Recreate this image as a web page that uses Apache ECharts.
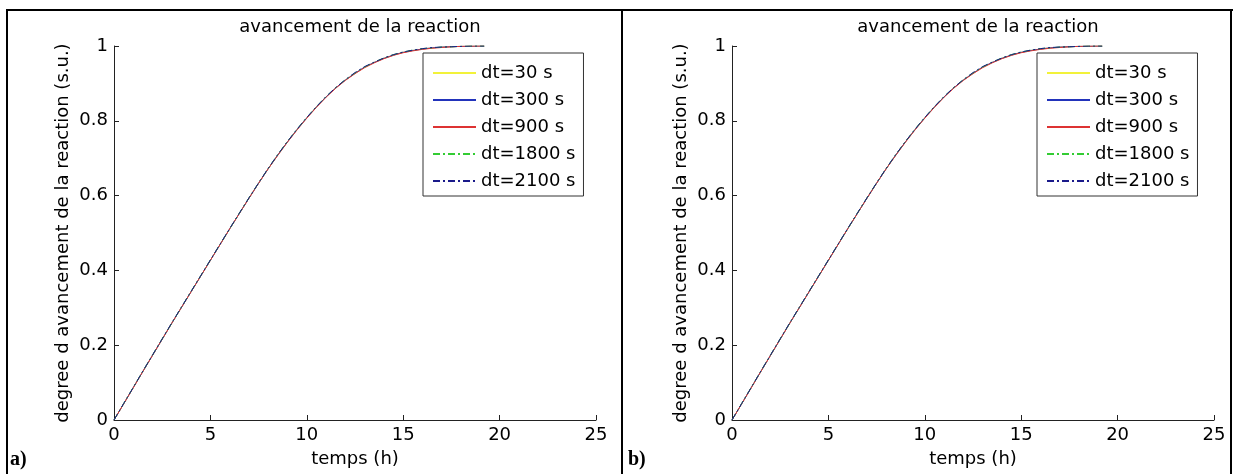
<!DOCTYPE html>
<html>
<head>
<meta charset="utf-8">
<script src="https://cdn.jsdelivr.net/npm/echarts@6/dist/echarts.min.js"></script>
<style>
html,body{margin:0;padding:0;background:#fff;}
#chart{width:1233px;height:474px;}
</style>
</head>
<body>
<div id="chart"></div>
<script>
// ---- data ----
var hours = [0,0.5,1,1.5,2,2.5,3,3.5,4,4.5,5,5.5,6,6.5,7,7.5,8,8.5,9,9.5,10,10.5,11,11.5,12,12.5,13,13.5,14,14.5,15,15.5,16,16.5,17,17.5,18,18.5,19,19.2];
var dt30   = [0,0.043,0.087,0.130,0.173,0.216,0.259,0.301,0.343,0.385,0.427,0.469,0.511,0.552,0.593,0.633,0.672,0.709,0.744,0.777,0.808,0.837,0.864,0.888,0.909,0.927,0.943,0.956,0.967,0.976,0.983,0.988,0.992,0.995,0.997,0.998,0.999,0.9995,1.0,1.0];
var dt300  = [0,0.043,0.087,0.130,0.173,0.216,0.259,0.301,0.343,0.385,0.427,0.469,0.511,0.552,0.593,0.633,0.672,0.709,0.744,0.777,0.808,0.837,0.864,0.888,0.909,0.927,0.944,0.956,0.967,0.976,0.983,0.988,0.992,0.995,0.997,0.998,0.999,0.9995,1.0,1.0];
var dt900  = [0,0.043,0.086,0.130,0.173,0.216,0.259,0.301,0.343,0.385,0.427,0.469,0.511,0.552,0.593,0.633,0.672,0.708,0.743,0.776,0.807,0.836,0.863,0.887,0.908,0.926,0.942,0.955,0.966,0.975,0.982,0.987,0.991,0.994,0.996,0.998,0.999,0.9995,1.0,1.0];
var dt1800 = [0,0.044,0.087,0.131,0.174,0.217,0.259,0.302,0.344,0.386,0.428,0.470,0.511,0.553,0.594,0.634,0.673,0.710,0.745,0.778,0.809,0.838,0.865,0.889,0.910,0.928,0.944,0.957,0.968,0.977,0.984,0.989,0.993,0.995,0.997,0.998,0.999,1.0,1.0,1.0];
var dt2100 = [0,0.044,0.087,0.131,0.174,0.217,0.260,0.302,0.344,0.386,0.428,0.470,0.512,0.553,0.594,0.634,0.673,0.710,0.745,0.778,0.809,0.838,0.865,0.889,0.910,0.929,0.945,0.957,0.968,0.977,0.984,0.989,0.993,0.996,0.997,0.998,0.999,1.0,1.0,1.0];
var seriesNames = ['dt=30 s','dt=300 s','dt=900 s','dt=1800 s','dt=2100 s'];
var seriesValues = [dt30, dt300, dt900, dt1800, dt2100];
var xTicks = [0,5,10,15,20,25];
var yTicks = [0,0.2,0.4,0.6,0.8,1];
var panelTitle = 'avancement de la reaction';
var xName = 'temps (h)';
var yName = 'degree d avancement de la reaction (s.u.)';
var panelLabels = ['a)','b)'];

// ---- styles ----
var colors = ['#f2f23a','#2233bb','#dd3333','#33cc33','#1a1a8a'];
var dashes = ['solid','solid','solid',[7,3,2,3],[7,3,2,3]];
var FONT = 'DejaVu Sans';

var panels = [
  {gridLeft:114, legendLeft:423, titleX:355, labelX:10},
  {gridLeft:732, legendLeft:1037, titleX:973, labelX:628}
];

function pairs(vals){
  var out = [];
  for (var i=0;i<hours.length;i++) out.push([hours[i], vals[i]]);
  return out;
}

var grids=[], xAxes=[], yAxes=[], series=[], legends=[], titles=[];
panels.forEach(function(p, pi){
  grids.push({left:p.gridLeft, top:46, width:482, height:374, containLabel:false, outerBoundsMode:'none'});
  xAxes.push({
    type:'value', gridIndex:pi, min:0, max:25, interval:5,
    name:xName, nameLocation:'middle', nameGap:30,
    nameTextStyle:{fontFamily:FONT, fontSize:18, color:'#000'},
    axisLine:{onZero:false, lineStyle:{color:'#222', width:1}},
    axisTick:{inside:true, length:5, lineStyle:{color:'#222'}},
    axisLabel:{fontFamily:FONT, fontSize:18, color:'#000', margin:6,
      formatter:function(v){return xTicks.indexOf(v)>=0 ? String(v) : '';}},
    splitLine:{show:false}
  });
  yAxes.push({
    type:'value', gridIndex:pi, min:0, max:1, interval:0.2,
    name:yName, nameLocation:'middle', nameGap:42, nameRotate:90,
    nameTextStyle:{fontFamily:FONT, fontSize:18, color:'#000'},
    axisLine:{show:true, onZero:false, lineStyle:{color:'#222', width:1}},
    axisTick:{show:true, inside:true, length:5, lineStyle:{color:'#222'}},
    axisLabel:{fontFamily:FONT, fontSize:18, color:'#000', margin:6,
      formatter:function(v){
        for (var k=0;k<yTicks.length;k++){ if (Math.abs(yTicks[k]-v)<1e-9) return String(yTicks[k]); }
        return '';
      }},
    splitLine:{show:false}
  });
  seriesNames.forEach(function(n, si){
    series.push({
      name:n, type:'line', xAxisIndex:pi, yAxisIndex:pi,
      data:pairs(seriesValues[si]), symbol:'none', smooth:false,
      lineStyle:{color:colors[si], width:1, type:dashes[si]},
      itemStyle:{color:colors[si]},
      animation:false, silent:true
    });
  });
  legends.push({
    data:seriesNames, orient:'vertical', left:p.legendLeft, top:53,
    padding:[11,8,6,9], itemGap:9, itemWidth:43, itemHeight:14,
    backgroundColor:'#fff', borderColor:'#333', borderWidth:1, borderRadius:0,
    selectedMode:false,
    itemStyle:{opacity:0},
    textStyle:{fontFamily:FONT, fontSize:18, color:'#000'}
  });
  titles.push({
    text:panelTitle, left:p.titleX, top:13, textAlign:'center',
    textStyle:{fontFamily:FONT, fontSize:18, fontWeight:'normal', color:'#000'}
  });
});

var graphics = [
  {type:'line', shape:{x1:6, y1:10, x2:1233, y2:10}, style:{stroke:'#000', lineWidth:2}},
  {type:'line', shape:{x1:7, y1:10, x2:7, y2:474}, style:{stroke:'#000', lineWidth:2}},
  {type:'line', shape:{x1:622, y1:10, x2:622, y2:474}, style:{stroke:'#000', lineWidth:2}},
  {type:'line', shape:{x1:1231, y1:10, x2:1231, y2:474}, style:{stroke:'#000', lineWidth:2}}
];
panels.forEach(function(p, pi){
  graphics.push({type:'text', left:p.labelX, top:450,
    style:{text:panelLabels[pi], font:'bold 20px "Liberation Serif", "Times New Roman", serif', fill:'#000'}});
});

var chart = echarts.init(document.getElementById('chart'), null, {renderer:'canvas'});
chart.setOption({
  animation:false,
  backgroundColor:'#fff',
  title:titles,
  grid:grids,
  xAxis:xAxes,
  yAxis:yAxes,
  legend:legends,
  series:series,
  graphic:graphics
});
</script>
</body>
</html>
